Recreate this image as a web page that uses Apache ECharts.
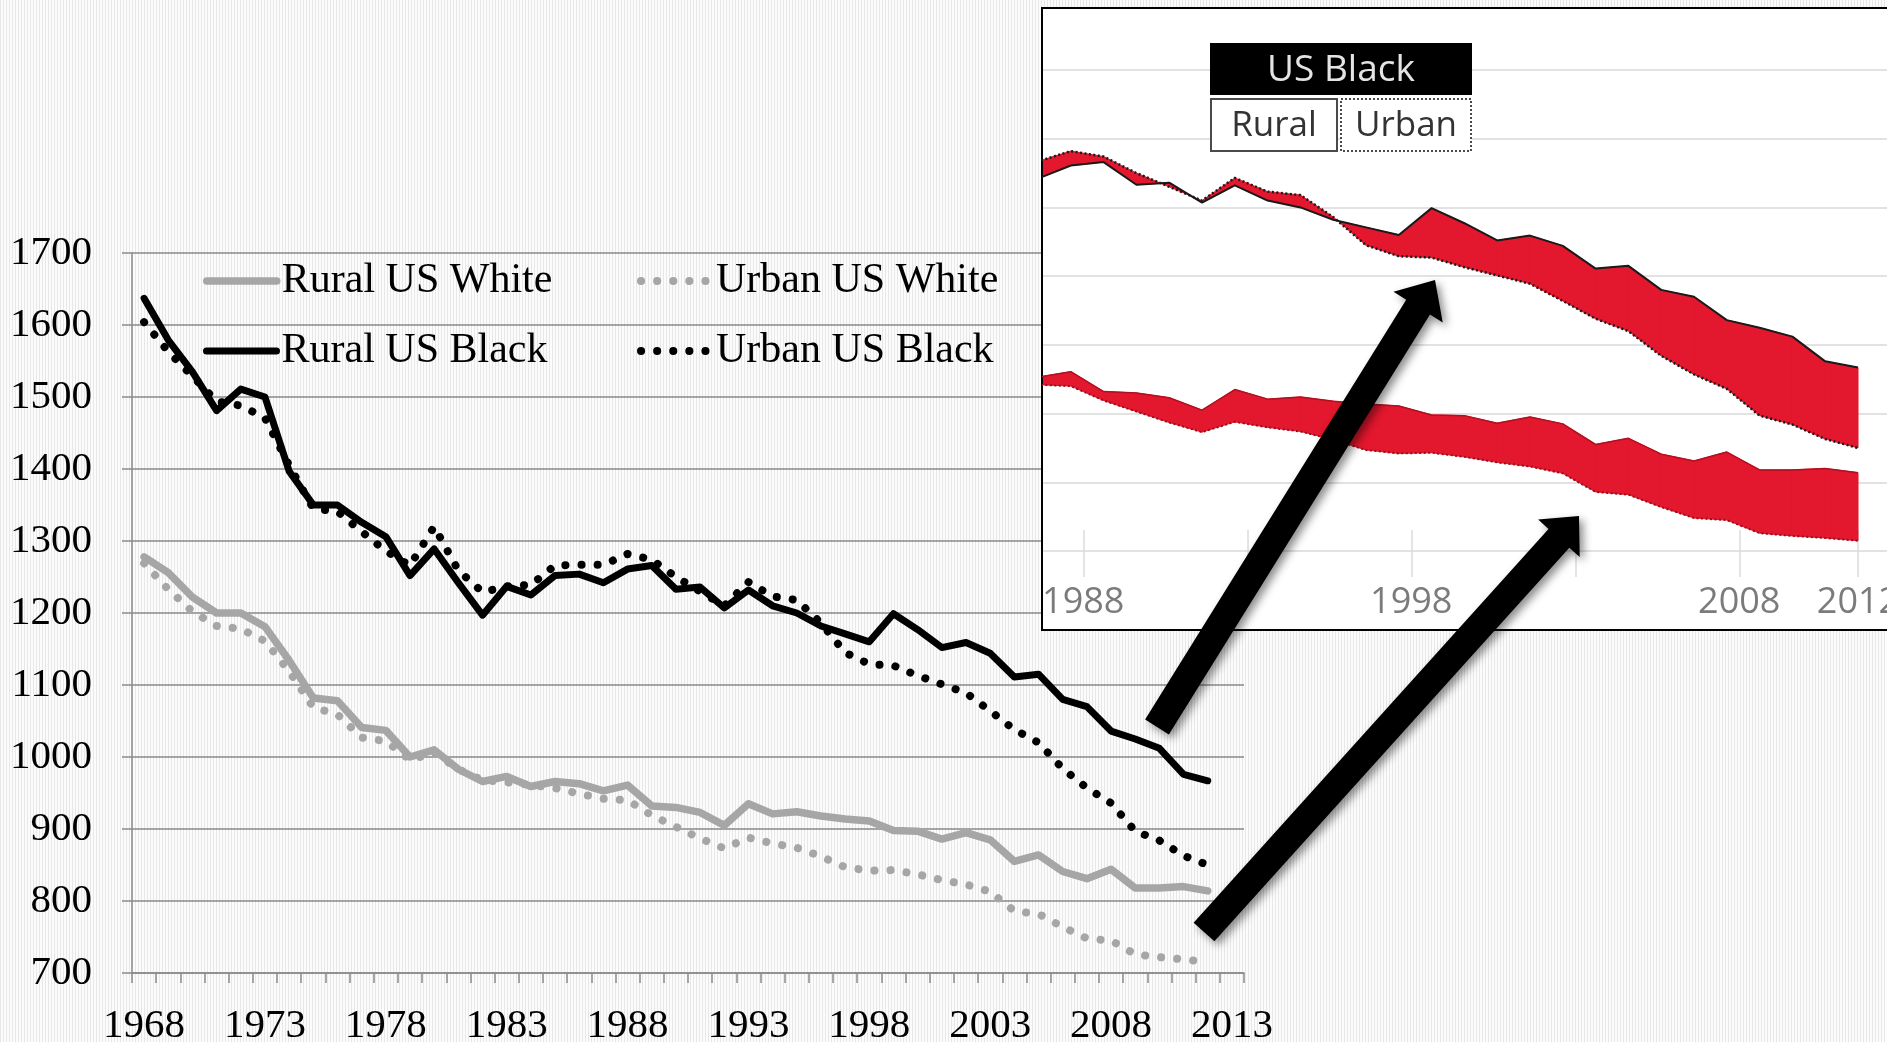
<!DOCTYPE html>
<html>
<head>
<meta charset="utf-8">
<script src="https://cdn.jsdelivr.net/npm/echarts@6/dist/echarts.min.js"></script>
<style>
html,body{margin:0;padding:0;}
body{background:repeating-linear-gradient(90deg,#e7e7e7 0px,#e7e7e7 1px,#fcfcfc 1px,#fcfcfc 3px);}
#c{width:1887px;height:1042px;}
</style>
</head>
<body>
<div id="c"></div>
<script>
// ---- data ----
const years = ['1968','1969','1970','1971','1972','1973','1974','1975','1976','1977','1978','1979','1980','1981','1982','1983','1984','1985','1986','1987','1988','1989','1990','1991','1992','1993','1994','1995','1996','1997','1998','1999','2000','2001','2002','2003','2004','2005','2006','2007','2008','2009','2010','2011','2012','2013'];

const ruralWhite = [1278,1256,1222,1200,1200,1181,1134,1082,1078,1041,1037,1000,1010,983,966,973,959,966,963,953,961,932,930,923,905,935,921,924,918,914,911,898,897,886,895,885,855,864,841,831,844,818,818,820,814];
const urbanWhite = [1269,1233,1202,1182,1178,1161,1119,1069,1059,1027,1022,996,1006,983,968,965,961,957,949,942,940,919,903,887,873,888,880,874,862,847,842,843,837,829,823,813,786,782,764,748,745,726,722,719,715];
const ruralBlack = [1637,1579,1535,1481,1511,1500,1397,1350,1350,1326,1306,1252,1289,1242,1197,1237,1225,1252,1254,1242,1261,1266,1233,1236,1207,1232,1210,1200,1182,1171,1160,1199,1177,1152,1159,1144,1111,1115,1080,1070,1036,1025,1012,976,967];
const urbanBlack = [1604,1563,1529,1494,1488,1471,1405,1345,1341,1313,1286,1266,1320,1259,1229,1237,1239,1266,1267,1267,1282,1274,1250,1230,1210,1243,1223,1218,1186,1145,1129,1127,1113,1101,1089,1064,1038,1020,984,957,936,897,884,863,850];

const seriesNames = ['Rural US White','Urban US White','Rural US Black','Urban US Black'];

// inset (screenshot of second chart)
const insetFirstYear = 1986;
const insetLabelYears = [1988, 1998, 2008, 2012];
const insetTickYears = [1988, 1993, 1998, 2003, 2008, 2012];
const insetLegendTitle = 'US Black';
const insetLegendItems = ['Rural', 'Urban'];

// ---- helpers ----
const insetIdx = years.map((y, i) => i).filter(i => +years[i] >= insetFirstYear && ruralBlack[i] != null);
const pts = a => insetIdx.map(i => [+years[i], a[i]]);
const bandSegs = (a, b) => insetIdx.slice(0, -1).map((i, k) => {
  const j = insetIdx[k + 1];
  return [+years[i], a[i], b[i], +years[j], a[j], b[j]];
});
// screenshot's own label placement sits a little right of the year
const labelShift = y => (y === 2012 ? y : y + 0.38);

function arrowPts(tx, ty, px, py, w, hw, hl) {
  const dx = px - tx, dy = py - ty, L = Math.hypot(dx, dy);
  const ux = dx / L, uy = dy / L, nx = -uy, ny = ux;
  const bx = px - ux * hl, by = py - uy * hl;
  return [
    [tx + nx * w / 2, ty + ny * w / 2],
    [bx + nx * w / 2, by + ny * w / 2],
    [bx + nx * hw / 2, by + ny * hw / 2],
    [px, py],
    [bx - nx * hw / 2, by - ny * hw / 2],
    [bx - nx * w / 2, by - ny * w / 2],
    [tx - nx * w / 2, ty - ny * w / 2]
  ];
}

const GRAY = '#a6a6a6';
const AXIS = '#8a8a8a';
const RED = '#e3172d';
const DOT = [0.1, 16];
const serif = 'Liberation Serif';
const sans = 'Open Sans';

const styles = [
  {color: GRAY, width: 7.5, type: 'solid'},
  {color: GRAY, width: 8, type: DOT},
  {color: '#000', width: 7, type: 'solid'},
  {color: '#000', width: 8, type: DOT}
];
const mainData = [ruralWhite, urbanWhite, ruralBlack, urbanBlack];
const legendPos = [[203, 260], [637, 260], [203, 330], [637, 330]];

const legends = seriesNames.map((n, k) => ({
  data: [n], left: legendPos[k][0], top: legendPos[k][1], padding: 0,
  itemWidth: 70, itemHeight: 14, itemGap: 0, selectedMode: false,
  textStyle: {fontFamily: serif, fontSize: 42, color: '#000'},
  itemStyle: {opacity: 0},
  lineStyle: {width: styles[k].width, type: styles[k].type, cap: 'round', color: styles[k].color, opacity: 1}
}));

const mainSeries = seriesNames.map((n, k) => ({
  name: n, type: 'line', xAxisIndex: 0, yAxisIndex: 0, data: mainData[k],
  symbol: 'none', silent: true, z: 3 + k,
  itemStyle: {color: styles[k].color},
  lineStyle: {color: styles[k].color, width: styles[k].width, type: styles[k].type,
              cap: 'round', join: 'round'}
}));

function bandItem(params, api) {
  const p0 = api.coord([api.value(0), api.value(1)]);
  const q0 = api.coord([api.value(0), api.value(2)]);
  const p1 = api.coord([api.value(3), api.value(4)]);
  const q1 = api.coord([api.value(3), api.value(5)]);
  return {type: 'polygon', shape: {points: [p0, p1, q1, q0]},
          style: {fill: RED, stroke: RED, lineWidth: 1}};
}
const bandBase = {type: 'custom', xAxisIndex: 1, yAxisIndex: 1, silent: true, z: 12, clip: true,
                  renderItem: bandItem, encode: {x: [0, 3], y: [1, 2, 4, 5]}};
const lineBase = {type: 'line', xAxisIndex: 1, yAxisIndex: 1, symbol: 'none', silent: true, z: 13};
const insetSeries = [
  Object.assign({}, bandBase, {name: 'ib-band', data: bandSegs(ruralBlack, urbanBlack)}),
  Object.assign({}, bandBase, {name: 'iw-band', data: bandSegs(ruralWhite, urbanWhite)}),
  Object.assign({}, lineBase, {name: 'ib-rural', data: pts(ruralBlack), lineStyle: {color: '#1a1a1a', width: 2}}),
  Object.assign({}, lineBase, {name: 'ib-urban', data: pts(urbanBlack), lineStyle: {color: '#1a1a1a', width: 2.5, type: [2, 2.5]}}),
  Object.assign({}, lineBase, {name: 'iw-rural', data: pts(ruralWhite), lineStyle: {color: '#b0101f', width: 1.5}}),
  Object.assign({}, lineBase, {name: 'iw-urban', data: pts(urbanWhite), lineStyle: {color: '#9a0d1a', width: 2, type: [2, 2.5]}})
];

const option = {
  animation: false,
  backgroundColor: 'transparent',
  legend: legends,
  grid: [
    {left: 132, top: 253, width: 1112, height: 720, outerBoundsMode: 'none'},
    {left: 1043, top: 70, width: 844, height: 481, outerBoundsMode: 'none'}
  ],
  xAxis: [
    {type: 'category', gridIndex: 0, data: years, boundaryGap: true, z: 0,
     axisLine: {show: true, lineStyle: {color: AXIS, width: 1.5}},
     axisTick: {show: true, interval: 0, length: 10, lineStyle: {color: AXIS, width: 1.5}},
     axisLabel: {interval: 4, margin: 33, color: '#000', fontFamily: serif, fontSize: 41},
     splitLine: {show: false}},
    {type: 'value', gridIndex: 1, min: 1987.152, max: 2012.884, offset: 26, z: 11,
     axisLine: {show: false},
     axisTick: {show: true, inside: true, length: 47, customValues: insetTickYears.map(labelShift),
                lineStyle: {color: '#dcdcdc', width: 1.5}},
     axisLabel: {customValues: insetLabelYears.map(labelShift), formatter: v => String(Math.round(v)),
                 margin: 8, color: '#7b7b7b', fontFamily: sans, fontSize: 36, hideOverlap: false},
     splitLine: {show: false}}
  ],
  yAxis: [
    {type: 'value', gridIndex: 0, min: 700, max: 1700, interval: 100, z: 0,
     axisLine: {show: true, lineStyle: {color: AXIS, width: 1.5}},
     axisTick: {show: true, length: 10, lineStyle: {color: AXIS, width: 1.5}},
     axisLabel: {margin: 40, color: '#000', fontFamily: serif, fontSize: 41, formatter: v => String(v)},
     splitLine: {show: true, lineStyle: {color: AXIS, width: 1.5}}},
    {type: 'value', gridIndex: 1, min: 700, max: 1400, interval: 100, z: 11,
     axisLine: {show: false}, axisTick: {show: false}, axisLabel: {show: false},
     splitLine: {show: true, lineStyle: {color: '#e2e2e2', width: 2}}}
  ],
  series: mainSeries.concat(insetSeries),
  graphic: {elements: [
    {type: 'rect', z: 10, silent: true, shape: {x: 1042, y: 8, width: 900, height: 622},
     style: {fill: '#ffffff', stroke: '#000', lineWidth: 2}},
    {type: 'rect', z: 14, silent: true, shape: {x: 1210, y: 43, width: 262, height: 52}, style: {fill: '#000'}},
    {type: 'text', z: 15, silent: true, x: 1341, y: 70,
     style: {text: insetLegendTitle, fill: '#e4e4e4', fontFamily: sans, fontSize: 37, align: 'center', verticalAlign: 'middle'}},
    {type: 'rect', z: 14, silent: true, shape: {x: 1211, y: 99, width: 126, height: 52},
     style: {fill: '#fff', stroke: '#4a4a4a', lineWidth: 2}},
    {type: 'text', z: 15, silent: true, x: 1274, y: 126,
     style: {text: insetLegendItems[0], fill: '#333', fontFamily: sans, fontSize: 35, align: 'center', verticalAlign: 'middle'}},
    {type: 'rect', z: 14, silent: true, shape: {x: 1341, y: 99, width: 130, height: 52},
     style: {fill: '#fff', stroke: '#4a4a4a', lineWidth: 2, lineDash: [2, 2]}},
    {type: 'text', z: 15, silent: true, x: 1406, y: 126,
     style: {text: insetLegendItems[1], fill: '#333', fontFamily: sans, fontSize: 35, align: 'center', verticalAlign: 'middle'}},
    {type: 'polygon', z: 50, silent: true, shape: {points: arrowPts(1157, 727, 1435, 280, 28, 58, 32)},
     style: {fill: '#000', shadowBlur: 8, shadowOffsetX: 4, shadowOffsetY: 4, shadowColor: 'rgba(0,0,0,0.45)'}},
    {type: 'polygon', z: 50, silent: true, shape: {points: arrowPts(1204, 932, 1579, 516, 28, 56, 30)},
     style: {fill: '#000', shadowBlur: 8, shadowOffsetX: 4, shadowOffsetY: 4, shadowColor: 'rgba(0,0,0,0.45)'}}
  ]}
};

const chart = echarts.init(document.getElementById('c'), null, {renderer: 'canvas'});
chart.setOption(option);
</script>
</body>
</html>
